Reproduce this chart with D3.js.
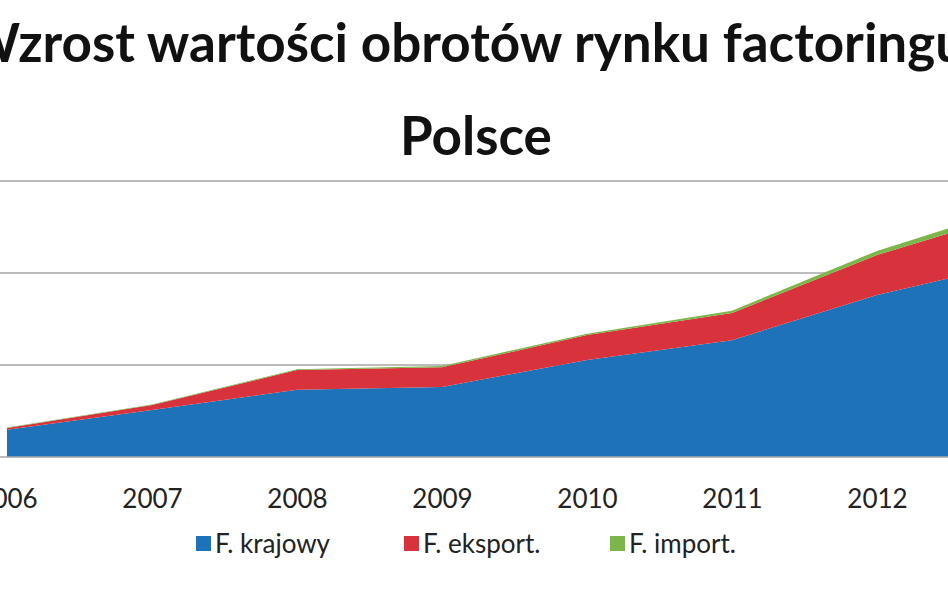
<!DOCTYPE html>
<html><head><meta charset="utf-8">
<script src="https://cdn.jsdelivr.net/npm/d3@7"></script>
<style>body{margin:0;background:#fff;overflow:hidden}</style>
</head><body>
<script>
var years = [2006, 2007, 2008, 2009, 2010, 2011, 2012, 2013];
var krajowy = [5.9, 10.2, 14.6, 15.2, 21.1, 25.4, 35.2, 42.6];
var eksport = [0.4, 1.1, 4.3, 4.3, 5.4, 5.9, 8.7, 10.9];
var importF = [0.1, 0.1, 0.2, 0.3, 0.3, 0.5, 0.9, 1.2];
var seriesNames = ["F. krajowy", "F. eksport.", "F. import."];
var gridTicks = [0, 20, 40, 60];
var tickYears = [2006, 2007, 2008, 2009, 2010, 2011, 2012];

function init(){
	var w = 948, h = 593;
	var colors = ["#1d72b8", "#d8323c", "#7cb54a"];
	var font = "Lato, 'Open Sans', sans-serif";

	var svg = d3.select("body").append("svg")
		.attr("width", w).attr("height", h);

	var xScale = d3.scaleLinear().domain([2006, 2013]).range([7, 1022]);
	var yScale = d3.scaleLinear().domain([0, 60]).range([457, 181]);

	svg.selectAll("line.grid")
		.data(gridTicks.slice(1))
		.enter().append("line")
		.attr("x1", 0).attr("x2", w)
		.attr("y1", function(d){ return yScale(d); })
		.attr("y2", function(d){ return yScale(d); })
		.attr("stroke", "#a6a6a6").attr("stroke-width", 1.5);

	var table = years.map(function(y, i){
		return {year: y, k: krajowy[i], e: eksport[i], m: importF[i]};
	});
	var series = d3.stack().keys(["k", "e", "m"])(table);

	var area = d3.area()
		.x(function(d){ return xScale(d.data.year); })
		.y0(function(d){ return yScale(d[0]); })
		.y1(function(d){ return yScale(d[1]); });

	svg.selectAll("path.layer")
		.data(series)
		.enter().append("path")
		.attr("d", area)
		.attr("fill", function(d, i){ return colors[i]; });

	svg.append("line")
		.attr("x1", 0).attr("x2", w)
		.attr("y1", yScale(0)).attr("y2", yScale(0))
		.attr("stroke", "#a6a6a6").attr("stroke-width", 1.5);

	var xAxis = d3.axisBottom(xScale)
		.tickValues(tickYears)
		.tickFormat(d3.format("d"))
		.tickSize(0).tickPadding(33);
	var gx = svg.append("g")
		.attr("transform", "translate(0," + yScale(0) + ")")
		.call(xAxis);
	gx.select(".domain").remove();
	gx.selectAll("text")
		.style("font-family", font).style("font-size", "26px").attr("fill", "#222");

	svg.append("text")
		.attr("x", 492).attr("y", 62)
		.attr("text-anchor", "middle")
		.style("font-family", font).style("font-weight", "bold").style("font-size", "53px")
		.attr("fill", "#111")
		.text("Wzrost wartości obrotów rynku factoringu w");
	svg.append("text")
		.attr("x", 476).attr("y", 155)
		.attr("text-anchor", "middle")
		.style("font-family", font).style("font-weight", "bold").style("font-size", "53px")
		.attr("fill", "#111")
		.text("Polsce");

	var legendX = [196, 404, 610];
	var lg = svg.selectAll("g.legend")
		.data(seriesNames)
		.enter().append("g")
		.attr("transform", function(d, i){ return "translate(" + legendX[i] + ",545)"; });
	lg.append("rect")
		.attr("x", 0).attr("y", -9).attr("width", 15).attr("height", 15)
		.attr("fill", function(d, i){ return colors[i]; });
	lg.append("text")
		.attr("x", 19).attr("y", 8)
		.style("font-family", font).style("font-size", "26px").attr("fill", "#222")
		.text(function(d){ return d; });
}
window.onload = init;
</script>
</body></html>
